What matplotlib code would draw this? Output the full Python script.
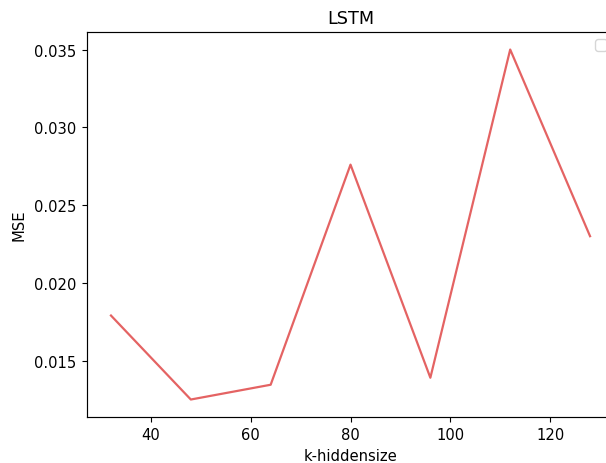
import matplotlib
matplotlib.use("Agg")
import matplotlib.pyplot as plt

hidden_sizes = [32, 48, 64, 80, 96, 112, 128]
mse_values = [0.0179, 0.0125, 0.01345, 0.0276, 0.0139, 0.0350, 0.0230]

plt.rcParams.update({
    "font.size": 10.6,
    "axes.titlesize": 12.7,
    "xtick.major.size": 3.7,
    "ytick.major.size": 3.7,
    "xtick.major.pad": 3.7,
    "ytick.major.pad": 3.7,
    "axes.linewidth": 0.85,
})

fig = plt.figure(figsize=(6.06, 4.64), dpi=100)
ax = fig.add_axes([0.1436, 0.0991, 0.8696, 0.8297])
ax.plot(hidden_sizes, mse_values, color="#e04848", alpha=0.85, linewidth=1.6)
ax.set_title("LSTM", pad=6.5)
ax.set_xlabel("k-hiddensize", labelpad=4)
ax.set_ylabel("MSE", labelpad=5.5)
ax.set_yticks([0.015, 0.020, 0.025, 0.030, 0.035])
ax.legend(handles=[], loc="upper right")

fig.savefig("out.png", dpi=100)
